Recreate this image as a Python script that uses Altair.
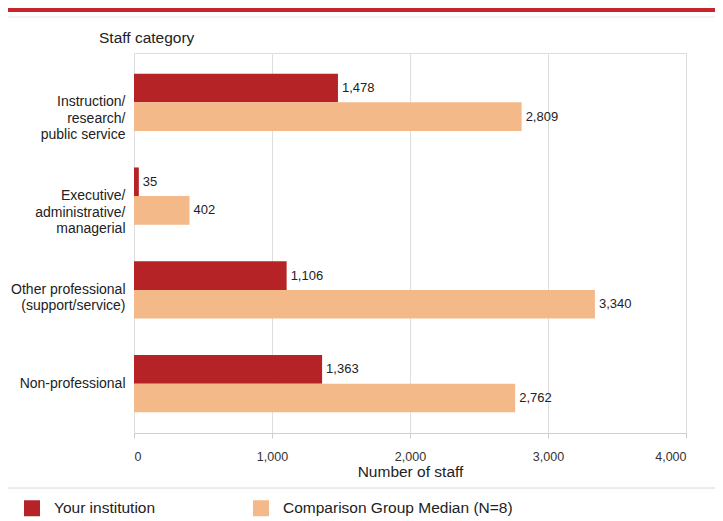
import altair as alt
import pandas as pd

categories = ["Instruction/|research/|public service",
              "Executive/|administrative/|managerial",
              "Other professional|(support/service)",
              "Non-professional"]
series_names = ["Your institution", "Comparison Group Median (N=8)"]
your_values = [1478, 35, 1106, 1363]
median_values = [2809, 402, 3340, 2762]

rows = []
for c, a, b in zip(categories, your_values, median_values):
    rows.append({"cat": c, "series": series_names[0], "value": a})
    rows.append({"cat": c, "series": series_names[1], "value": b})
df = pd.DataFrame(rows)

FONT = "Liberation Sans"
RED = "#b52326"
PEACH = "#f3b989"

y_enc = alt.Y("cat:N", sort=categories,
              scale=alt.Scale(paddingInner=0.39, paddingOuter=0.22),
              axis=alt.Axis(title=None, domain=False, ticks=False, labelPadding=9,
                            labelExpr="split(datum.label, '|')", labelLineHeight=16.5,
                            labelFontSize=14, labelColor="#222", labelFont=FONT,
                            grid=False))
x_enc = alt.X("value:Q", scale=alt.Scale(domain=[0, 4000], nice=False),
              axis=alt.Axis(title="Number of staff", values=[0, 1000, 2000, 3000, 4000],
                            labelExpr="format(datum.value, ',')", grid=True, gridColor="#dedede",
                            domainColor="#cfcfcf", tickColor="#cfcfcf", tickSize=5,
                            labelPadding=12, labelFontSize=12.5, labelColor="#333",
                            titleFontSize=15.5, titleFontWeight="normal", titleColor="#222",
                            titlePadding=2, labelFont=FONT, titleFont=FONT))
yoff = alt.YOffset("series:N", sort=series_names)
color = alt.Color("series:N", sort=series_names,
                  scale=alt.Scale(domain=series_names, range=[RED, PEACH]),
                  legend=alt.Legend(title=None, orient="none", direction="horizontal",
                                    legendX=-110, legendY=447, symbolType="square",
                                    symbolSize=256, symbolStrokeWidth=0, symbolOpacity=1,
                                    labelFontSize=15.5, labelFont=FONT, labelColor="#222",
                                    labelOffset=14, columnPadding=97, padding=0,
                                    labelLimit=400))

bars = alt.Chart(df).mark_bar(opacity=1).encode(y=y_enc, x=x_enc, yOffset=yoff, color=color)
labels = alt.Chart(df).mark_text(align="left", baseline="middle", dx=4, fontSize=13,
                                 font=FONT, color="#222").encode(
    y=y_enc, x=x_enc, yOffset=yoff,
    text=alt.Text("value:Q", format=","))

deco_df = pd.DataFrame({"k": [0]})
top_red = alt.Chart(deco_df).mark_rule(color="#c8262e", strokeWidth=4).encode(
    x=alt.value(-134), x2=alt.value(620), y=alt.value(-43))
top_grey = alt.Chart(deco_df).mark_rule(color="#e8e8e8", strokeWidth=1).encode(
    x=alt.value(-134), x2=alt.value(620), y=alt.value(-36))
bottom_grey = alt.Chart(deco_df).mark_rule(color="#d8d8d8", strokeWidth=1).encode(
    x=alt.value(-126), x2=alt.value(620), y=alt.value(435))
title_txt = alt.Chart(deco_df).mark_text(align="left", baseline="middle", fontSize=15.5,
                                         font=FONT, color="#222").encode(
    x=alt.value(-35), y=alt.value(-15), text=alt.value("Staff category"))

chart = alt.layer(bars, labels, top_red, top_grey, bottom_grey, title_txt).properties(
    width=552, height=380,
    autosize=alt.AutoSizeParams(type="none"),
    padding={"left": 126, "top": 45, "right": 29, "bottom": 87},
).configure_view(stroke="#dedede").configure(background="white")

chart.save("out.html", embed_options={"renderer": "svg", "actions": False})
